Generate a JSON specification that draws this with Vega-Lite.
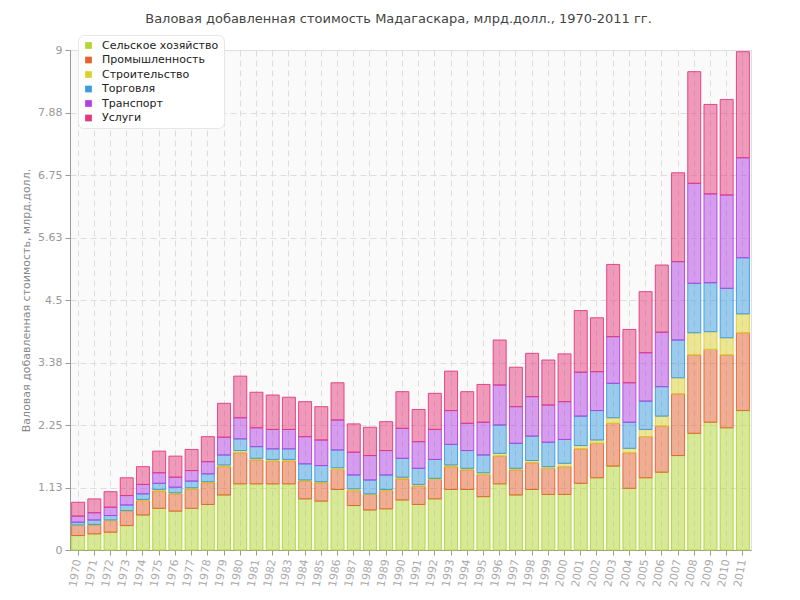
{
  "$schema": "https://vega.github.io/schema/vega-lite/v6.json",
  "autosize": {"type": "none"},
  "padding": {"left": 70, "top": 50, "right": 49, "bottom": 50},
  "width": 681,
  "height": 500,
  "background": "white",
  "title": {
    "text": "Валовая добавленная стоимость Мадагаскара, млрд.долл., 1970-2011 гг.",
    "font": "DejaVu Sans",
    "fontSize": 13,
    "fontWeight": "normal",
    "color": "#444444",
    "anchor": "middle",
    "dx": -12,
    "dy": 17,
    "offset": 26
  },
  "config": {
    "view": {"fill": "#fafafa", "stroke": "#e0e0e0", "strokeWidth": 1},
    "font": "DejaVu Sans",
    "axis": {
      "labelFont": "DejaVu Sans",
      "titleFont": "DejaVu Sans",
      "labelColor": "#999999",
      "titleColor": "#888888",
      "gridColor": "#dddddd",
      "gridDash": [6, 4],
      "domainColor": "#999999",
      "tickColor": "#999999"
    }
  },
  "datasets": {
    "sectors": [
      {"sector": "Сельское хозяйство", "rank": 1},
      {"sector": "Промышленность", "rank": 2},
      {"sector": "Строительство", "rank": 3},
      {"sector": "Торговля", "rank": 4},
      {"sector": "Транспорт", "rank": 5},
      {"sector": "Услуги", "rank": 6}
    ]
  },
  "data": {
    "values": [
      {"year": "1970", "Сельское хозяйство": 0.26, "Промышленность": 0.18, "Строительство": 0.01, "Торговля": 0.05, "Транспорт": 0.11, "Услуги": 0.25},
      {"year": "1971", "Сельское хозяйство": 0.29, "Промышленность": 0.16, "Строительство": 0.01, "Торговля": 0.08, "Транспорт": 0.13, "Услуги": 0.25},
      {"year": "1972", "Сельское хозяйство": 0.32, "Промышленность": 0.21, "Строительство": 0.01, "Торговля": 0.08, "Транспорт": 0.15, "Услуги": 0.28},
      {"year": "1973", "Сельское хозяйство": 0.44, "Промышленность": 0.26, "Строительство": 0.01, "Торговля": 0.10, "Транспорт": 0.17, "Услуги": 0.32},
      {"year": "1974", "Сельское хозяйство": 0.63, "Промышленность": 0.26, "Строительство": 0.02, "Торговля": 0.10, "Транспорт": 0.17, "Услуги": 0.32},
      {"year": "1975", "Сельское хозяйство": 0.75, "Промышленность": 0.31, "Строительство": 0.03, "Торговля": 0.11, "Транспорт": 0.19, "Услуги": 0.39},
      {"year": "1976", "Сельское хозяйство": 0.70, "Промышленность": 0.31, "Строительство": 0.02, "Торговля": 0.10, "Транспорт": 0.18, "Услуги": 0.38},
      {"year": "1977", "Сельское хозяйство": 0.75, "Промышленность": 0.35, "Строительство": 0.02, "Торговля": 0.12, "Транспорт": 0.19, "Услуги": 0.38},
      {"year": "1978", "Сельское хозяйство": 0.82, "Промышленность": 0.39, "Строительство": 0.02, "Торговля": 0.14, "Транспорт": 0.22, "Услуги": 0.45},
      {"year": "1979", "Сельское хозяйство": 0.99, "Промышленность": 0.51, "Строительство": 0.03, "Торговля": 0.18, "Транспорт": 0.32, "Услуги": 0.61},
      {"year": "1980", "Сельское хозяйство": 1.19, "Промышленность": 0.56, "Строительство": 0.04, "Торговля": 0.21, "Транспорт": 0.38, "Услуги": 0.75},
      {"year": "1981", "Сельское хозяйство": 1.19, "Промышленность": 0.43, "Строительство": 0.03, "Торговля": 0.21, "Транспорт": 0.34, "Услуги": 0.64},
      {"year": "1982", "Сельское хозяйство": 1.19, "Промышленность": 0.41, "Строительство": 0.03, "Торговля": 0.19, "Транспорт": 0.35, "Услуги": 0.62},
      {"year": "1983", "Сельское хозяйство": 1.19, "Промышленность": 0.41, "Строительство": 0.03, "Торговля": 0.19, "Транспорт": 0.35, "Услуги": 0.58},
      {"year": "1984", "Сельское хозяйство": 0.92, "Промышленность": 0.32, "Строительство": 0.02, "Торговля": 0.29, "Транспорт": 0.49, "Услуги": 0.63},
      {"year": "1985", "Сельское хозяйство": 0.88, "Промышленность": 0.33, "Строительство": 0.02, "Торговля": 0.29, "Транспорт": 0.46, "Услуги": 0.60},
      {"year": "1986", "Сельское хозяйство": 1.09, "Промышленность": 0.36, "Строительство": 0.03, "Торговля": 0.32, "Транспорт": 0.54, "Услуги": 0.67},
      {"year": "1987", "Сельское хозяйство": 0.80, "Промышленность": 0.27, "Строительство": 0.03, "Торговля": 0.25, "Транспорт": 0.41, "Услуги": 0.51},
      {"year": "1988", "Сельское хозяйство": 0.72, "Промышленность": 0.28, "Строительство": 0.01, "Торговля": 0.25, "Транспорт": 0.44, "Услуги": 0.51},
      {"year": "1989", "Сельское хозяйство": 0.74, "Промышленность": 0.33, "Строительство": 0.02, "Торговля": 0.26, "Транспорт": 0.44, "Услуги": 0.52},
      {"year": "1990", "Сельское хозяйство": 0.90, "Промышленность": 0.38, "Строительство": 0.03, "Торговля": 0.34, "Транспорт": 0.54, "Услуги": 0.66},
      {"year": "1991", "Сельское хозяйство": 0.82, "Промышленность": 0.33, "Строительство": 0.03, "Торговля": 0.29, "Транспорт": 0.48, "Услуги": 0.58},
      {"year": "1992", "Сельское хозяйство": 0.92, "Промышленность": 0.35, "Строительство": 0.02, "Торговля": 0.34, "Транспорт": 0.54, "Услуги": 0.65},
      {"year": "1993", "Сельское хозяйство": 1.09, "Промышленность": 0.41, "Строительство": 0.03, "Торговля": 0.37, "Транспорт": 0.61, "Услуги": 0.71},
      {"year": "1994", "Сельское хозяйство": 1.09, "Промышленность": 0.35, "Строительство": 0.03, "Торговля": 0.32, "Транспорт": 0.49, "Услуги": 0.57},
      {"year": "1995", "Сельское хозяйство": 0.96, "Промышленность": 0.40, "Строительство": 0.03, "Торговля": 0.32, "Транспорт": 0.59, "Услуги": 0.68},
      {"year": "1996", "Сельское хозяйство": 1.19, "Промышленность": 0.50, "Строительство": 0.05, "Торговля": 0.51, "Транспорт": 0.72, "Услуги": 0.81},
      {"year": "1997", "Сельское хозяйство": 0.99, "Промышленность": 0.45, "Строительство": 0.03, "Торговля": 0.45, "Транспорт": 0.66, "Услуги": 0.71},
      {"year": "1998", "Сельское хозяйство": 1.09, "Промышленность": 0.48, "Строительство": 0.04, "Торговля": 0.44, "Транспорт": 0.71, "Услуги": 0.78},
      {"year": "1999", "Сельское хозяйство": 1.00, "Промышленность": 0.47, "Строительство": 0.03, "Торговля": 0.44, "Транспорт": 0.67, "Услуги": 0.81},
      {"year": "2000", "Сельское хозяйство": 1.00, "Промышленность": 0.50, "Строительство": 0.06, "Торговля": 0.43, "Транспорт": 0.68, "Услуги": 0.86},
      {"year": "2001", "Сельское хозяйство": 1.20, "Промышленность": 0.62, "Строительство": 0.06, "Торговля": 0.53, "Транспорт": 0.79, "Услуги": 1.11},
      {"year": "2002", "Сельское хозяйство": 1.30, "Промышленность": 0.62, "Строительство": 0.06, "Торговля": 0.53, "Транспорт": 0.70, "Услуги": 0.97},
      {"year": "2003", "Сельское хозяйство": 1.51, "Промышленность": 0.77, "Строительство": 0.10, "Торговля": 0.62, "Транспорт": 0.84, "Услуги": 1.30},
      {"year": "2004", "Сельское хозяйство": 1.11, "Промышленность": 0.64, "Строительство": 0.08, "Торговля": 0.47, "Транспорт": 0.71, "Услуги": 0.96},
      {"year": "2005", "Сельское хозяйство": 1.30, "Промышленность": 0.74, "Строительство": 0.13, "Торговля": 0.51, "Транспорт": 0.87, "Услуги": 1.10},
      {"year": "2006", "Сельское хозяйство": 1.40, "Промышленность": 0.83, "Строительство": 0.18, "Торговля": 0.53, "Транспорт": 0.98, "Услуги": 1.21},
      {"year": "2007", "Сельское хозяйство": 1.70, "Промышленность": 1.11, "Строительство": 0.29, "Торговля": 0.68, "Транспорт": 1.41, "Услуги": 1.60},
      {"year": "2008", "Сельское хозяйство": 2.10, "Промышленность": 1.41, "Строительство": 0.40, "Торговля": 0.89, "Транспорт": 1.80, "Услуги": 2.01},
      {"year": "2009", "Сельское хозяйство": 2.30, "Промышленность": 1.31, "Строительство": 0.32, "Торговля": 0.88, "Транспорт": 1.60, "Услуги": 1.61},
      {"year": "2010", "Сельское хозяйство": 2.20, "Промышленность": 1.31, "Строительство": 0.31, "Торговля": 0.89, "Транспорт": 1.68, "Услуги": 1.72},
      {"year": "2011", "Сельское хозяйство": 2.51, "Промышленность": 1.40, "Строительство": 0.34, "Торговля": 1.01, "Транспорт": 1.80, "Услуги": 1.91}
    ]
  },
  "transform": [
    {"fold": ["Сельское хозяйство", "Промышленность", "Строительство", "Торговля", "Транспорт", "Услуги"], "as": ["sector", "value"]},
    {"lookup": "sector", "from": {"data": {"name": "sectors"}, "key": "sector", "fields": ["rank"]}}
  ],
  "mark": {"type": "bar", "fillOpacity": 0.5, "strokeWidth": 1, "strokeOpacity": 0.9},
  "encoding": {
    "x": {
      "field": "year",
      "type": "ordinal",
      "scale": {"paddingInner": 0.2, "paddingOuter": 0.1},
      "axis": {
        "title": null,
        "labelAngle": -80,
        "labelFontSize": 11,
        "labelColor": "#aaaaaa",
        "grid": true,
        "tickSize": 5,
        "labelPadding": 4,
        "domainColor": "#999999"
      }
    },
    "y": {
      "field": "value",
      "type": "quantitative",
      "stack": "zero",
      "scale": {"domain": [0, 9], "nice": false},
      "axis": {
        "title": "Валовая добавленная стоимость, млрд.долл.",
        "titleFontSize": 11,
        "titleFontWeight": "normal",
        "titlePadding": 6,
        "values": [0, 1.125, 2.25, 3.375, 4.5, 5.625, 6.75, 7.875, 9],
        "format": ".2~f",
        "labelFontSize": 11,
        "tickSize": 5,
        "labelPadding": 3
      }
    },
    "order": {"field": "rank", "type": "quantitative", "sort": "ascending"},
    "color": {
      "field": "sector",
      "type": "nominal",
      "sort": ["Сельское хозяйство", "Промышленность", "Строительство", "Торговля", "Транспорт", "Услуги"],
      "scale": {
        "domain": ["Сельское хозяйство", "Промышленность", "Строительство", "Торговля", "Транспорт", "Услуги"],
        "range": ["#b3d634", "#e4622b", "#ddd02e", "#3a9be0", "#b23fe3", "#e3387c"]
      },
      "legend": {
        "title": null,
        "orient": "none",
        "legendX": 8,
        "legendY": -15,
        "fillColor": "white",
        "strokeColor": "#e6e6e6",
        "cornerRadius": 6,
        "padding": 5,
        "symbolType": "square",
        "symbolSize": 45,
        "symbolOpacity": 1,
        "symbolStrokeWidth": 0,
        "labelFont": "DejaVu Sans",
        "labelFontSize": 11,
        "labelColor": "#222222",
        "rowPadding": 2.5,
        "labelOffset": 8
      }
    },
    "stroke": {
      "field": "sector",
      "type": "nominal",
      "scale": {
        "domain": ["Сельское хозяйство", "Промышленность", "Строительство", "Торговля", "Транспорт", "Услуги"],
        "range": ["#b3d634", "#e4622b", "#ddd02e", "#3a9be0", "#b23fe3", "#e3387c"]
      },
      "legend": null
    }
  }
}
